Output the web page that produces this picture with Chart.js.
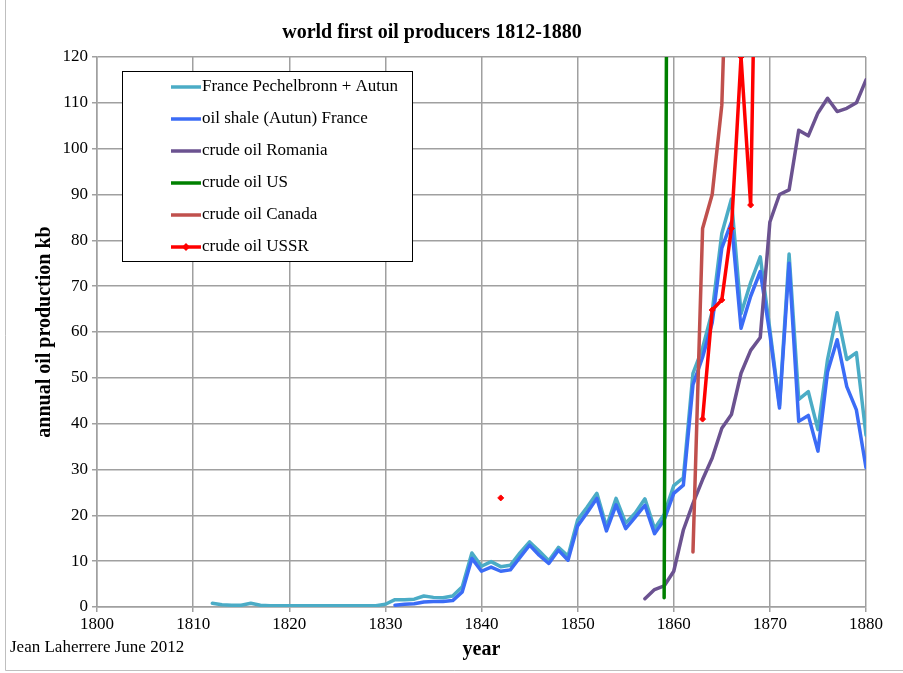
<!DOCTYPE html>
<html>
<head>
<meta charset="utf-8">
<title>world first oil producers 1812-1880</title>
<script src="https://cdn.jsdelivr.net/npm/chart.js@4.4.1/dist/chart.umd.min.js"></script>
<style>
  html, body { margin: 0; padding: 0; background: #fff; }
  #wrap { position: relative; width: 903px; height: 673px; }
</style>
</head>
<body>
<div id="wrap"><canvas id="chart" width="903" height="673"></canvas></div>
<script>
// ── Data ──────────────────────────────────────────────────
const years = [
  1812, 1813, 1814, 1815, 1816, 1817, 1818, 1819, 1820, 1821, 1822, 1823,
  1824, 1825, 1826, 1827, 1828, 1829, 1830, 1831, 1832, 1833, 1834, 1835,
  1836, 1837, 1838, 1839, 1840, 1841, 1842, 1843, 1844, 1845, 1846, 1847,
  1848, 1849, 1850, 1851, 1852, 1853, 1854, 1855, 1856, 1857, 1858, 1859,
  1860, 1861, 1862, 1863, 1864, 1865, 1866, 1867, 1868, 1869, 1870, 1871,
  1872, 1873, 1874, 1875, 1876, 1877, 1878, 1879, 1880,
];

// France Pechelbronn + Autun, from 1812
const france = [
  0.8, 0.5, 0.4, 0.4, 0.8, 0.4, 0.3, 0.3, 0.3, 0.3, 0.3, 0.3,
  0.3, 0.3, 0.3, 0.3, 0.3, 0.3, 0.6, 1.6, 1.6, 1.7, 2.4, 2.1,
  2.0, 2.4, 4.4, 11.8, 8.9, 9.9, 8.8, 9.1, 11.8, 14.2, 12.2, 10.1,
  13.0, 11.1, 19.0, 21.8, 24.8, 17.5, 23.7, 18.3, 20.5, 23.6, 17.1, 20.2,
  26.5, 28.2, 51.0, 56.5, 64.5, 81.5, 89, 64, 70.8, 76.4, 60.5, 44,
  77, 45.3, 47, 38.7, 54, 64.2, 54, 55.5, 37.5,
];

// oil shale (Autun) France, from 1831
const autun = [
  0.4, 0.6, 0.7, 1.1, 1.2, 1.2, 1.4, 3.3, 10.6, 7.8, 8.7, 7.8,
  8.1, 10.8, 13.5, 11.3, 9.5, 12.4, 10.2, 17.7, 20.6, 23.7, 16.6, 22.3,
  17.1, 19.6, 22.2, 16.0, 19.0, 24.8, 26.6, 48.5, 54.5, 62, 78.3, 84,
  60.8, 67.8, 73.2, 59.5, 43.4, 75, 40.5, 41.8, 34, 51.3, 58.3, 48.1,
  43, 30.4,
];

// crude oil Romania, from 1857
const romania = [
  1.8, 3.8, 4.6, 7.8, 16.8, 22.6, 27.8, 32.5, 39, 42, 51, 56,
  58.8, 84, 90, 91, 104, 102.8, 107.8, 111, 108.1, 108.8, 110, 115,
];

// crude oil US, from 1859 (goes far off the top of the scale)
const us = [2, 500];

// crude oil Canada, from 1862
const canada = [12, 82.6, 90, 109.5, 175];

// crude oil USSR: lone 1842 point, then from 1863
const ussrEarly = [23.8];
const ussr = [41, 64.8, 67, 82.6, 120, 87.7, 210];

// ── Helpers ───────────────────────────────────────────────
const SERIF = "'Liberation Serif', 'Times New Roman', serif";

function pts(values, firstYear) {
  const start = years.indexOf(firstYear);
  return values.map((v, i) => ({ x: years[start + i], y: v }));
}

function series(label, data, color, order, extra) {
  return Object.assign({
    label, data, order,
    borderColor: color,
    backgroundColor: color,
    borderWidth: 3.5,
    pointRadius: 0,
    tension: 0,
    fill: false,
    spanGaps: false,
    borderJoinStyle: 'round',
    borderCapStyle: 'round',
  }, extra || {});
}

const ussrPoints = pts(ussrEarly, 1842).concat([{ x: 1843, y: null }], pts(ussr, 1863));

const datasets = [
  series('France Pechelbronn + Autun', pts(france, 1812), '#4bacc6', 6),
  series('oil shale (Autun) France', pts(autun, 1831), '#3b6cf6', 5),
  series('crude oil Romania', pts(romania, 1857), '#6b5290', 4),
  series('crude oil US', pts(us, 1859), '#008000', 3),
  series('crude oil Canada', pts(canada, 1862), '#c0504d', 2),
  series('crude oil USSR', ussrPoints, '#ff0000', 1, {
    pointRadius: 3, pointStyle: 'rectRot', pointBorderWidth: 1,
  }),
];

// ── Decorations: frame, title, credit, legend box ─────────
const decor = {
  id: 'decor',
  afterDraw(chart) {
    const c = chart.ctx;
    c.save();

    // outer frame
    c.strokeStyle = '#bfbfbf';
    c.lineWidth = 1;
    c.beginPath();
    c.moveTo(5.5, 0); c.lineTo(5.5, 670.5); c.lineTo(903, 670.5);
    c.stroke();

    c.fillStyle = '#000';
    c.textBaseline = 'middle';

    c.font = `bold 20px ${SERIF}`;
    c.textAlign = 'center';
    c.fillText('world first oil producers 1812-1880', 432, 33);

    c.font = `17px ${SERIF}`;
    c.textAlign = 'left';
    c.fillText('Jean Laherrere June 2012', 10, 648);

    // legend
    const bx = 122, by = 71, bw = 290, bh = 190;
    c.fillStyle = '#fff';
    c.fillRect(bx, by, bw, bh);
    c.strokeStyle = '#000';
    c.lineWidth = 1;
    c.strokeRect(bx + 0.5, by + 0.5, bw, bh);

    chart.data.datasets.forEach((ds, i) => {
      const y = 87 + i * 32;
      c.strokeStyle = ds.borderColor;
      c.lineWidth = 3.5;
      c.beginPath();
      c.moveTo(171, y); c.lineTo(201, y);
      c.stroke();
      if (ds.pointRadius) {
        c.fillStyle = ds.borderColor;
        c.beginPath();
        c.moveTo(186, y - 4); c.lineTo(190, y); c.lineTo(186, y + 4); c.lineTo(182, y);
        c.closePath();
        c.fill();
      }
      c.fillStyle = '#000';
      c.font = `17px ${SERIF}`;
      c.fillText(ds.label, 202, y);
    });

    c.restore();
  },
};

// ── Chart ─────────────────────────────────────────────────
const gridStyle = { color: '#a0a0a0', lineWidth: 1.5, tickLength: 5, drawTicks: true };
const borderStyle = { display: true, color: '#a0a0a0', width: 1.5 };
const tickFont = { family: SERIF, size: 17 };

new Chart(document.getElementById('chart'), {
  type: 'line',
  data: { datasets },
  options: {
    responsive: false,
    animation: false,
    layout: { padding: { left: 0, right: 37, top: 57, bottom: 0 } },
    plugins: {
      legend: { display: false },
      title: { display: false },
      tooltip: { enabled: false },
    },
    scales: {
      x: {
        type: 'linear',
        min: 1800,
        max: 1880,
        grid: gridStyle,
        border: borderStyle,
        ticks: { stepSize: 10, color: '#000', font: tickFont, padding: 2, maxRotation: 0, callback: v => String(v) },
        title: { display: true, text: 'year', color: '#000', font: { family: SERIF, size: 20, weight: 'bold' }, padding: { top: 0, bottom: 11 } },
        afterFit: s => { s.height = 66; },
      },
      y: {
        min: 0,
        max: 120,
        grid: gridStyle,
        border: borderStyle,
        ticks: { stepSize: 10, color: '#000', font: tickFont, padding: 4 },
        title: { display: true, text: 'annual oil production kb', color: '#000', font: { family: SERIF, size: 20, weight: 'bold' }, padding: { top: 33, bottom: 0 } },
        afterFit: s => { s.width = 97; },
      },
    },
  },
  plugins: [decor],
});
</script>
</body>
</html>
